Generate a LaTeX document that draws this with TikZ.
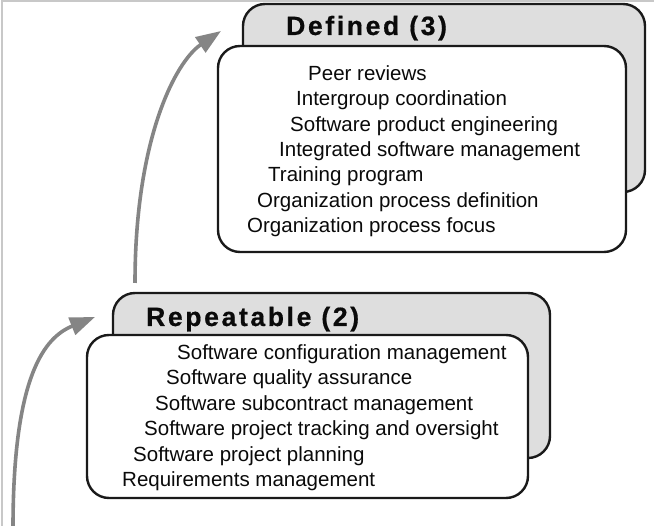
\documentclass[tikz,border=0pt]{standalone}
\usepackage{fontspec}
\setmainfont{Liberation Sans}
\newfontfamily\ttlfont{Liberation Sans}[LetterSpace=10,BoldFeatures={FakeBold=0.6}]
\usetikzlibrary{arrows.meta}
\definecolor{linecol}{HTML}{1A1A1A}
\definecolor{boxgray}{HTML}{DEDEDE}
\definecolor{arrowgray}{HTML}{858585}
\definecolor{framecol}{HTML}{C8C8C8}
\definecolor{txtcol}{HTML}{0A0A0A}
\begin{document}
\begin{tikzpicture}[x=1pt,y=-1pt,
  backbox/.style={draw=linecol, line width=2.4pt, fill=boxgray, rounded corners=22pt, inner sep=0pt},
  frontbox/.style={draw=linecol, line width=2.4pt, fill=white, rounded corners=22pt, inner sep=0pt},
  ttl/.style={anchor=base west, inner sep=0pt, text=txtcol, font=\ttlfont\bfseries\fontsize{26.5}{30}\selectfont},
  item/.style={anchor=base west, inner sep=0pt, text=txtcol, font=\fontsize{20.5}{24}\selectfont},
  arrowline/.style={draw=arrowgray, line width=3.6pt, -{Triangle[length=25pt,width=18pt]}}]
\useasboundingbox (0,0) rectangle (654,526);
\fill[white] (0,0) rectangle (654,526);
% frame
\coordinate (fbl) at (2,526);
\coordinate (ftl) at (2,1);
\coordinate (ftr) at (654,1);
\draw[framecol, line width=1.5pt] (fbl) -- (ftl) -- (ftr);
% Defined (3)
\node[backbox, minimum width=402pt, minimum height=188pt] (dback) at (444,98) {};
\node[frontbox, minimum width=408pt, minimum height=206pt] (dfront) at (422,149) {};
\node[ttl] (dtitle) at (286,35) {Defined (3)};
\node[item] (d1) at (308,80.5) {Peer reviews};
\node[item] (d2) at (296,105.8) {Intergroup coordination};
\node[item] (d3) at (290,131.2) {Software product engineering};
\node[item] (d4) at (279,156.6) {Integrated software management};
\node[item] (d5) at (268,182) {Training program};
\node[item] (d6) at (257,207.4) {Organization process definition};
\node[item] (d7) at (247,232.8) {Organization process focus};
% Repeatable (2)
\node[backbox, minimum width=437pt, minimum height=165pt] (rback) at (331.5,375.5) {};
\node[frontbox, minimum width=441pt, minimum height=163pt] (rfront) at (307.5,416.5) {};
\node[ttl] (rtitle) at (146,326) {Repeatable (2)};
\node[item] (r1) at (177,359.5) {Software configuration management};
\node[item] (r2) at (166,385) {Software quality assurance};
\node[item] (r3) at (155,410.5) {Software subcontract management};
\node[item] (r4) at (144,436) {Software project tracking and oversight};
\node[item] (r5) at (133,461.5) {Software project planning};
\node[item] (r6) at (122,487) {Requirements management};
% arrows
\coordinate (a1s) at (13,528);
\coordinate (a1e) at (95,317);
\coordinate (a2s) at (135,283);
\coordinate (a2e) at (221,31);
\draw[arrowline] (a1s) .. controls (13,375) and (45,337) .. (a1e);
\draw[arrowline] (a2s) .. controls (135,140) and (175,62) .. (a2e);
\end{tikzpicture}
\end{document}
